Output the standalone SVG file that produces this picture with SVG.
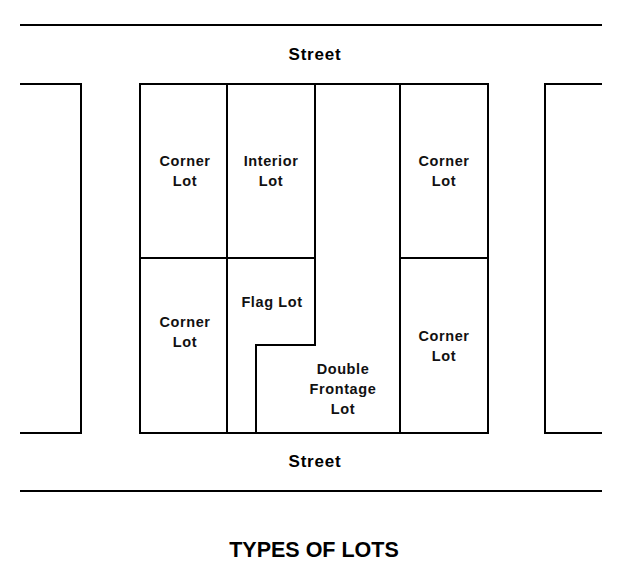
<svg xmlns="http://www.w3.org/2000/svg" width="628" height="585" viewBox="0 0 628 585">
<style>
.ln{stroke:#000;stroke-width:2;fill:none}
.t{font-family:"Liberation Sans",Arial,sans-serif;font-size:14.5px;font-weight:bold;letter-spacing:0.6px;text-anchor:middle;fill:#111}
.s{font-family:"Liberation Sans",Arial,sans-serif;font-size:17px;font-weight:bold;letter-spacing:0.8px;text-anchor:middle;fill:#000}
.h{font-family:"Liberation Sans",Arial,sans-serif;font-size:21.5px;font-weight:bold;text-anchor:middle;fill:#000}
</style>
<rect width="628" height="585" fill="#fff"/>
<g id="streets">
<line class="ln" x1="20" y1="25" x2="602" y2="25"/>
<line class="ln" x1="20" y1="491" x2="602" y2="491"/>
<text class="s" x="315" y="60">Street</text>
<text class="s" x="315" y="467">Street</text>
</g>
<g id="left-block"><path class="ln" d="M20,84 H81 V433 H20"/></g>
<g id="right-block"><path class="ln" d="M602,84 H545 V433 H602"/></g>
<g id="main-block">
<rect class="ln" x="140" y="84" width="348" height="349"/>
<line class="ln" x1="227" y1="84" x2="227" y2="433"/>
<line class="ln" x1="400" y1="84" x2="400" y2="433"/>
<line class="ln" x1="140" y1="258" x2="315" y2="258"/>
<line class="ln" x1="400" y1="258" x2="488" y2="258"/>
<path class="ln" d="M315,84 V345 H256 V433"/>
</g>
<g id="corner-lot-tl"><text class="t" x="185" y="166">Corner</text><text class="t" x="185" y="186">Lot</text></g>
<g id="interior-lot"><text class="t" x="271" y="166">Interior</text><text class="t" x="271" y="186">Lot</text></g>
<g id="corner-lot-tr"><text class="t" x="444" y="166">Corner</text><text class="t" x="444" y="186">Lot</text></g>
<g id="corner-lot-bl"><text class="t" x="185" y="327">Corner</text><text class="t" x="185" y="347">Lot</text></g>
<g id="flag-lot"><text class="t" x="272" y="307">Flag Lot</text></g>
<g id="double-frontage-lot"><text class="t" x="343" y="374">Double</text><text class="t" x="343" y="394">Frontage</text><text class="t" x="343" y="414">Lot</text></g>
<g id="corner-lot-br"><text class="t" x="444" y="341">Corner</text><text class="t" x="444" y="361">Lot</text></g>
<g id="connectors"/>
<text class="h" x="314" y="557">TYPES OF LOTS</text>
</svg>
